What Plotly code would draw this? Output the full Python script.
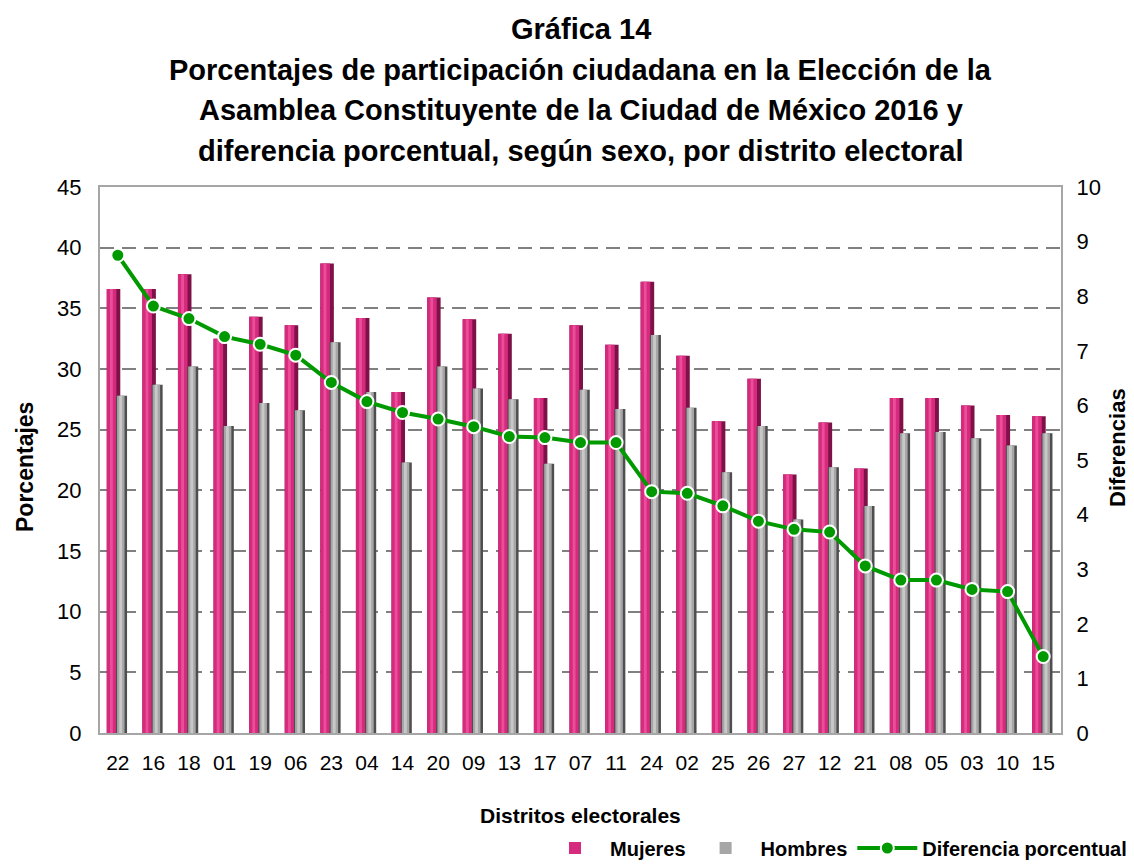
import plotly.graph_objects as go

distritos = ["22", "16", "18", "01", "19", "06", "23", "04", "14", "20", "09", "13", "17",
             "07", "11", "24", "02", "25", "26", "27", "12", "21", "08", "05", "03", "10", "15"]
mujeres = [36.6, 36.6, 37.8, 32.5, 34.3, 33.6, 38.7, 34.2, 28.1, 35.9, 34.1, 32.9, 27.6,
           33.6, 32.0, 37.2, 31.1, 25.7, 29.2, 21.3, 25.6, 21.8, 27.6, 27.6, 27.0, 26.2, 26.1]
hombres = [27.8, 28.7, 30.2, 25.3, 27.2, 26.6, 32.2, 28.1, 22.3, 30.2, 28.4, 27.5, 22.2,
           28.3, 26.7, 32.8, 26.8, 21.5, 25.3, 17.6, 21.9, 18.7, 24.7, 24.8, 24.3, 23.7, 24.7]
diferencia = [8.75, 7.82, 7.59, 7.26, 7.12, 6.92, 6.42, 6.07, 5.87, 5.75, 5.61, 5.43, 5.41,
              5.32, 5.32, 4.42, 4.39, 4.16, 3.88, 3.73, 3.68, 3.06, 2.80, 2.80, 2.63, 2.59, 1.40]

left_ticks = [0, 5, 10, 15, 20, 25, 30, 35, 40, 45]
right_ticks = [0, 1, 2, 3, 4, 5, 6, 7, 8, 9, 10]

title_lines = [
    "Gráfica 14",
    "Porcentajes de participación ciudadana en la Elección de la",
    "Asamblea Constituyente de la Ciudad de México 2016 y",
    "diferencia porcentual, según sexo, por distrito electoral",
]

FONT = "Liberation Sans Narrow, Arial Narrow, Liberation Sans, Arial, sans-serif"

# page offset introduced by the default body margin of the html page
OFF = 8
FIG_W, FIG_H = 1134 - OFF, 864 - OFF
# plot area in page pixels (as in the reference)
P_LEFT, P_RIGHT, P_TOP, P_BOTTOM = 100, 1061, 187, 733
P_W, P_H = P_RIGHT - P_LEFT, P_BOTTOM - P_TOP


def ypaper(py):
    return (P_BOTTOM - py) / P_H


def xpaper(px):
    return (px - P_LEFT) / P_W


fig = go.Figure()

# Mujeres: dark base with brighter left face (cylinder look)
fig.add_trace(go.Bar(
    x=distritos, y=mujeres, showlegend=False, hoverinfo="skip",
    marker=dict(color="#7E1147", line=dict(width=0)),
    width=0.38, offset=-0.31,
))
fig.add_trace(go.Bar(
    x=distritos, y=mujeres, name="Mujeres",
    marker=dict(color="#D62A7E", line=dict(width=0)),
    width=0.27, offset=-0.31,
))
fig.add_trace(go.Bar(
    x=distritos, y=mujeres, showlegend=False, hoverinfo="skip",
    marker=dict(color="#EA4E98", line=dict(width=0)),
    width=0.08, offset=-0.22,
))
# Hombres: dark edges, light centre
fig.add_trace(go.Bar(
    x=distritos, y=hombres, showlegend=False, hoverinfo="skip",
    marker=dict(color="#4E4E4E", line=dict(width=0)),
    width=0.31, offset=-0.05,
))
fig.add_trace(go.Bar(
    x=distritos, y=hombres, name="Hombres",
    marker=dict(color="#A6A6A6", line=dict(width=0)),
    width=0.21, offset=-0.02,
))
fig.add_trace(go.Bar(
    x=distritos, y=hombres, showlegend=False, hoverinfo="skip",
    marker=dict(color="#C8C8C8", line=dict(width=0)),
    width=0.08, offset=0.04,
))
fig.add_trace(go.Scatter(
    x=distritos, y=diferencia, name="Diferencia porcentual", yaxis="y2",
    mode="lines+markers",
    line=dict(color="#009A00", width=4),
    marker=dict(color="#009A00", size=13, line=dict(color="white", width=2)),
))

annotations = []
for i, t in enumerate(title_lines):
    annotations.append(dict(
        text="<b>" + t + "</b>", x=0.5, xref="paper", y=ypaper(29 + 40.7 * i),
        yref="paper", showarrow=False, xanchor="center", yanchor="middle",
        font=dict(family=FONT, size=29, color="black"),
    ))
annotations.append(dict(
    text="<b>Distritos electorales</b>", x=0.5, xref="paper", y=ypaper(815),
    yref="paper", showarrow=False, xanchor="center", yanchor="middle",
    font=dict(family=FONT, size=21, color="black"),
))
annotations.append(dict(
    text="<b>Porcentajes</b>", x=xpaper(25), xref="paper", y=ypaper(467),
    yref="paper", showarrow=False, xanchor="center", yanchor="middle", textangle=-90,
    font=dict(family=FONT, size=23, color="black"),
))
annotations.append(dict(
    text="<b>Diferencias</b>", x=xpaper(1117), xref="paper", y=ypaper(448),
    yref="paper", showarrow=False, xanchor="center", yanchor="middle", textangle=-90,
    font=dict(family=FONT, size=22, color="black"),
))

fig.update_layout(
    width=FIG_W, height=FIG_H,
    paper_bgcolor="white", plot_bgcolor="white",
    margin=dict(l=P_LEFT - OFF, r=FIG_W - (P_RIGHT - OFF), t=P_TOP - OFF,
                b=FIG_H - (P_BOTTOM - OFF), autoexpand=False),
    barmode="overlay",
    font=dict(family=FONT, size=20, color="black"),
    annotations=annotations,
    showlegend=True,
    legend=dict(orientation="h", x=xpaper(1132), xref="paper", xanchor="right",
                y=ypaper(848), yref="paper", yanchor="middle", itemwidth=60,
                font=dict(family=FONT, size=20, color="black", weight="bold"),
                traceorder="normal", bgcolor="rgba(0,0,0,0)", tracegroupgap=0),
    xaxis=dict(
        type="category", range=[-0.5, len(distritos) - 0.5], showgrid=False,
        ticks="outside", ticklen=10, tickcolor="rgba(0,0,0,0)", tickfont=dict(size=21),
        showline=True, linecolor="#A6A6A6", linewidth=2, mirror=True, automargin=False,
    ),
    yaxis=dict(
        range=[0, 45], tickvals=left_ticks, ticktext=[str(v) for v in left_ticks],
        showgrid=True, gridcolor="#808080", gridwidth=2, griddash="14px,8px",
        showline=True, linecolor="#A6A6A6", linewidth=2, mirror=True,
        zeroline=False, ticks="outside", ticklen=12, tickcolor="rgba(0,0,0,0)",
        tickfont=dict(size=22), automargin=False,
    ),
    yaxis2=dict(
        range=[0, 10], overlaying="y", side="right",
        tickvals=right_ticks, ticktext=[str(v) for v in right_ticks],
        showgrid=False, zeroline=False, ticks="outside", ticklen=10,
        tickcolor="rgba(0,0,0,0)", tickfont=dict(size=22), automargin=False,
    ),
)

fig.write_html("out.html")
